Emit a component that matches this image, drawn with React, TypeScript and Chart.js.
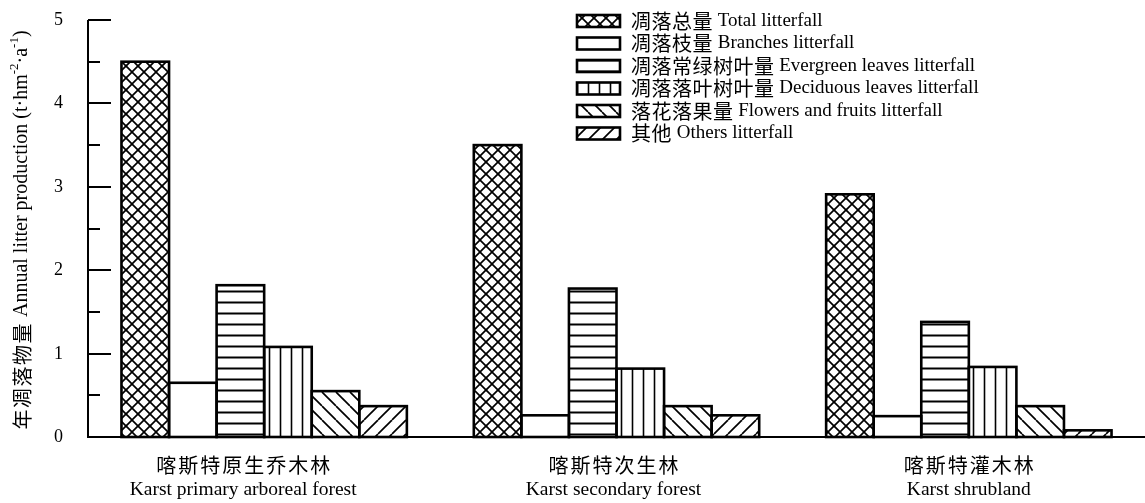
import React, { useEffect, useRef } from "react";
import { Chart, registerables } from "chart.js";

Chart.register(...registerables);

// Site types (x categories)
const categoriesZh = ["喀斯特原生乔木林", "喀斯特次生林", "喀斯特灌木林"];
const categoriesEn = ["Karst primary arboreal forest", "Karst secondary forest", "Karst shrubland"];

// Litter components (series)
const seriesZh = ["凋落总量", "凋落枝量", "凋落常绿树叶量", "凋落落叶树叶量", "落花落果量", "其他"];
const seriesEn = [
  "Total litterfall",
  "Branches litterfall",
  "Evergreen leaves litterfall",
  "Deciduous leaves litterfall",
  "Flowers and fruits litterfall",
  "Others litterfall",
];

// Annual litter production, t·hm^-2·a^-1
const totalLitter = [4.5, 3.5, 2.91];
const branchesLitter = [0.65, 0.26, 0.25];
const evergreenLitter = [1.82, 1.78, 1.38];
const deciduousLitter = [1.08, 0.82, 0.84];
const flowersFruitsLitter = [0.55, 0.37, 0.37];
const othersLitter = [0.37, 0.26, 0.08];

const yTicks = [0, 1, 2, 3, 4, 5];
const yMinorTicks = [0.5, 1.5, 2.5, 3.5, 4.5];

const hatchKinds = ["cross", "none", "horizontal", "vertical", "back", "forward"];

// horizontal nudge of each category caption, px
const captionShift = [-21, -3, 0];

const SERIF = '"Liberation Serif", "Times New Roman", serif';
const CJK = '"Noto Sans CJK SC", sans-serif';

function makeHatch(ctx: CanvasRenderingContext2D, kind: string): CanvasPattern | string {
  if (kind === "none") return "#ffffff";
  const sizes: Record<string, number> = { cross: 12, horizontal: 11, vertical: 11, back: 14, forward: 14 };
  const s = sizes[kind];
  const c = document.createElement("canvas");
  c.width = s;
  c.height = s;
  const g = c.getContext("2d")!;
  g.fillStyle = "#ffffff";
  g.fillRect(0, 0, s, s);
  g.strokeStyle = "#000000";
  const line = (x1: number, y1: number, x2: number, y2: number) => {
    g.beginPath();
    g.moveTo(x1, y1);
    g.lineTo(x2, y2);
    g.stroke();
  };
  if (kind === "horizontal") {
    g.lineWidth = 2;
    line(0, s / 2, s, s / 2);
  } else if (kind === "vertical") {
    g.lineWidth = 1.6;
    line(s / 2, 0, s / 2, s);
  } else {
    g.lineWidth = 1.7;
    for (const d of [-s, 0, s]) {
      if (kind === "back" || kind === "cross") line(d, 0, d + s, s);
      if (kind === "forward" || kind === "cross") line(d, s, d + s, 0);
    }
  }
  return ctx.createPattern(c, "repeat")!;
}

// Text made of runs with their own font, spacing and baseline shift.
type Run = { text: string; font: string; dy?: number; spacing?: number };
function runWidth(ctx: CanvasRenderingContext2D, r: Run) {
  ctx.font = r.font;
  (ctx as any).letterSpacing = `${r.spacing || 0}px`;
  const w = ctx.measureText(r.text).width;
  (ctx as any).letterSpacing = "0px";
  return w;
}
function runsWidth(ctx: CanvasRenderingContext2D, runs: Run[]) {
  return runs.reduce((w, r) => w + runWidth(ctx, r), 0);
}
function drawRuns(ctx: CanvasRenderingContext2D, runs: Run[], x: number, y: number) {
  let cx = x;
  for (const r of runs) {
    const w = runWidth(ctx, r);
    ctx.font = r.font;
    (ctx as any).letterSpacing = `${r.spacing || 0}px`;
    ctx.fillText(r.text, cx, y + (r.dy || 0));
    (ctx as any).letterSpacing = "0px";
    cx += w;
  }
}

const decorPlugin = {
  id: "decor",
  afterDatasetsDraw(chart: any) {
    const ctx: CanvasRenderingContext2D = chart.ctx;
    ctx.save();
    ctx.strokeStyle = "#000";
    ctx.lineWidth = 2.6;
    ctx.lineJoin = "miter";
    chart.data.datasets.forEach((_: any, di: number) => {
      const meta = chart.getDatasetMeta(di);
      meta.data.forEach((bar: any) => {
        const { x, y, base, width } = bar.getProps(["x", "y", "base", "width"], true);
        ctx.strokeRect(x - width / 2, y, width, base - y);
      });
    });
    ctx.restore();
  },
  afterDraw(chart: any) {
    const ctx: CanvasRenderingContext2D = chart.ctx;
    const yScale = chart.scales.y;
    const xScale = chart.scales.x;
    const area = chart.chartArea;
    ctx.save();
    ctx.fillStyle = "#000";
    ctx.strokeStyle = "#000";

    // axis lines
    ctx.lineWidth = 2;
    ctx.beginPath();
    ctx.moveTo(area.left, area.top);
    ctx.lineTo(area.left, area.bottom);
    ctx.lineTo(area.right, area.bottom);
    ctx.stroke();

    // inward tick marks and tick labels
    ctx.textAlign = "right";
    ctx.textBaseline = "middle";
    ctx.font = `18px ${SERIF}`;
    for (const v of yTicks) {
      const py = Math.round(yScale.getPixelForValue(v));
      ctx.beginPath();
      ctx.moveTo(area.left, py);
      ctx.lineTo(area.left + 23, py);
      ctx.stroke();
      ctx.fillText(String(v), 63, py);
    }
    for (const v of yMinorTicks) {
      const py = Math.round(yScale.getPixelForValue(v));
      ctx.beginPath();
      ctx.moveTo(area.left, py);
      ctx.lineTo(area.left + 12, py);
      ctx.stroke();
    }

    // category captions (two lines)
    ctx.textAlign = "left";
    categoriesEn.forEach((en, i) => {
      const px = xScale.getPixelForValue(i) + captionShift[i];
      const zh: Run[] = [{ text: categoriesZh[i], font: `20px ${CJK}`, spacing: 2 }];
      const zw = runsWidth(ctx, zh) - 2;
      drawRuns(ctx, zh, px - zw / 2, 465);
      const enRun: Run[] = [{ text: en, font: `19.5px ${SERIF}` }];
      drawRuns(ctx, enRun, px - runsWidth(ctx, enRun) / 2, 490);
    });

    // y-axis title with superscripts
    const title: Run[] = [
      { text: "年凋落物量", font: `20px ${CJK}`, spacing: 1.5 },
      { text: " Annual litter production (t·hm", font: `20px ${SERIF}` },
      { text: "-2", font: `13px ${SERIF}`, dy: -7 },
      { text: "·a", font: `20px ${SERIF}` },
      { text: "-1", font: `13px ${SERIF}`, dy: -7 },
      { text: ")", font: `20px ${SERIF}` },
    ];
    const tw = runsWidth(ctx, title);
    ctx.save();
    ctx.translate(22, 230);
    ctx.rotate(-Math.PI / 2);
    drawRuns(ctx, title, -tw / 2, 0);
    ctx.restore();

    // legend
    const pats = chart.data.datasets.map((d: any) => d.backgroundColor);
    seriesZh.forEach((zh, i) => {
      const cy = 21 + i * 22.5;
      ctx.fillStyle = pats[i];
      ctx.fillRect(577, cy - 6, 43, 12);
      ctx.lineWidth = 2.6;
      ctx.strokeRect(577, cy - 6, 43, 12);
      ctx.fillStyle = "#000";
      drawRuns(
        ctx,
        [
          { text: zh, font: `20px ${CJK}`, spacing: 0.5 },
          { text: " " + seriesEn[i], font: `19px ${SERIF}` },
        ],
        631,
        cy
      );
    });
    ctx.restore();
  },
};

export default function App() {
  const ref = useRef<HTMLCanvasElement | null>(null);

  useEffect(() => {
    document.body.style.margin = "0";
    const canvas = ref.current!;
    const ctx = canvas.getContext("2d")!;
    const values = [totalLitter, branchesLitter, evergreenLitter, deciduousLitter, flowersFruitsLitter, othersLitter];
    const chart = new Chart(canvas, {
      type: "bar",
      data: {
        labels: categoriesEn,
        datasets: values.map((data, i) => ({
          label: `${seriesZh[i]} ${seriesEn[i]}`,
          data,
          backgroundColor: makeHatch(ctx, hatchKinds[i]) as any,
          borderWidth: 0,
          categoryPercentage: 0.81,
          barPercentage: 1,
        })),
      },
      options: {
        responsive: false,
        animation: false,
        devicePixelRatio: 1,
        layout: { padding: { top: 20, right: 0, left: 0, bottom: 0 } },
        plugins: { legend: { display: false }, tooltip: { enabled: false } },
        scales: {
          x: {
            grid: { display: false, drawTicks: false },
            border: { display: false },
            ticks: { display: false },
            afterFit: (s: any) => {
              s.height = 66;
            },
          },
          y: {
            min: 0,
            max: 5,
            afterBuildTicks: (s: any) => {
              s.ticks = yTicks.map((v) => ({ value: v }));
            },
            grid: { display: false, drawTicks: false },
            border: { display: false },
            ticks: { display: false },
            afterFit: (s: any) => {
              s.width = 88;
            },
          },
        },
      },
      plugins: [decorPlugin],
    });
    return () => chart.destroy();
  }, []);

  return <canvas ref={ref} width={1145} height={503} style={{ display: "block" }} />;
}
